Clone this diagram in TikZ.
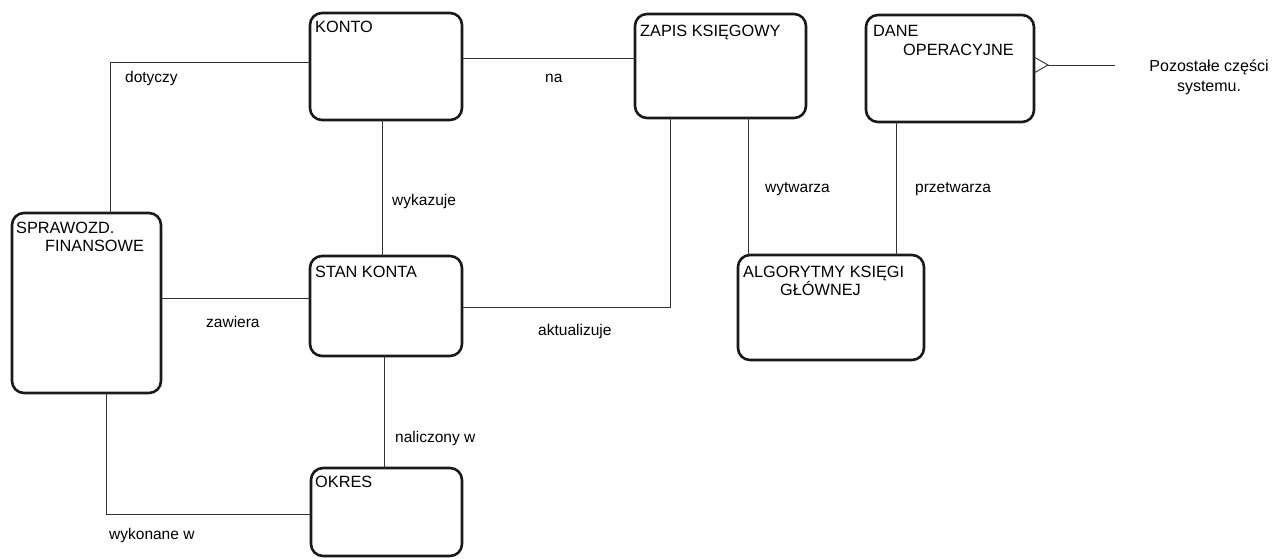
\documentclass[tikz,border=0pt]{standalone}
\usepackage{fontspec}
\setmainfont{Liberation Sans}
\usetikzlibrary{calc}
\begin{document}
\begin{tikzpicture}[x=1pt,y=-1pt,
  entity/.style={draw=black!90, line width=2.6pt, rounded corners=12pt,
    inner sep=0pt, outer sep=0pt},
  etitle/.style={inner sep=0pt, anchor=base west, align=left,
    font=\fontsize{16.3}{18.5}\selectfont},
  rel/.style={draw=black!80, line width=0.9pt},
  rlabel/.style={inner sep=0pt, anchor=base west,
    font=\fontsize{15.5}{18}\selectfont}]
\useasboundingbox (0,0) rectangle (1287,559);

% entity boxes
\node[entity, minimum width=152, minimum height=107] (konto) at (386,66.5) {};
\node[entity, minimum width=171, minimum height=104] (zapis) at (720.5,66) {};
\node[entity, minimum width=168, minimum height=107] (dane) at (950,68.5) {};
\node[entity, minimum width=149, minimum height=180] (sprawozd) at (86.5,303) {};
\node[entity, minimum width=152, minimum height=100] (stan) at (386,306) {};
\node[entity, minimum width=186, minimum height=105] (algorytmy) at (831,307.5) {};
\node[entity, minimum width=151, minimum height=88] (okres) at (386.5,512) {};

% entity names (two-line names are anchored on their last line)
\node[etitle] (tkonto) at ($(konto.north west)+(5,20)$) {KONTO};
\node[etitle] (tzapis) at ($(zapis.north west)+(5,22.5)$) {ZAPIS KSIĘGOWY};
\node[etitle] (tdane) at ($(dane.north west)+(7,40.5)$) {DANE\\\hspace*{30pt}OPERACYJNE};
\node[etitle] (tspraw) at ($(sprawozd.north west)+(4,38.5)$) {SPRAWOZD.\\\hspace*{29pt}FINANSOWE};
\node[etitle] (tstan) at ($(stan.north west)+(5,21)$) {STAN KONTA};
\node[etitle] (talg) at ($(algorytmy.north west)+(5,40.5)$) {ALGORYTMY KSIĘGI\\\hspace*{37pt}GŁÓWNEJ};
\node[etitle] (tokres) at ($(okres.north west)+(4,19)$) {OKRES};

% relationships
\draw[rel] ([xshift=23.5pt]sprawozd.north) |- ([yshift=4.5pt]konto.west);
\draw[rel] ([yshift=8.5pt]konto.east) coordinate (na1) -- (na1 -| zapis.west);
\draw[rel] ([xshift=-4pt]konto.south) coordinate (wk1) -- (wk1 |- stan.north);
\draw[rel] ([yshift=8pt]stan.west) coordinate (za1) -- (za1 -| sprawozd.east);
\draw[rel] ([yshift=-1pt]stan.east) -| ([xshift=-50.5pt]zapis.south);
\draw[rel] ([xshift=-2pt]stan.south) coordinate (nw1) -- (nw1 |- okres.north);
\draw[rel] ([xshift=19.5pt]sprawozd.south) |- ([yshift=-2pt]okres.west);
\draw[rel] ([xshift=27.5pt]zapis.south) coordinate (wt1) -- (wt1 |- algorytmy.north);
\draw[rel] ([xshift=-54pt]dane.south) coordinate (pt1) -- (pt1 |- algorytmy.north);

% link to the rest of the system, with a crow's foot at the entity
\node[inner sep=0pt, align=center, font=\fontsize{16}{20}\selectfont, anchor=base]
  (reszta) at (1209,92) {Pozostałe części\\systemu.};
\coordinate (restend) at (1115,65);
\draw[rel] ([yshift=3.5pt]dane.east) ++(14,0) -- (restend);
\draw[rel] ([yshift=11.5pt]dane.east) -- ++(14,8) -- ++(-14,8);

% relationship labels
\node[rlabel] (ldot) at (125,83) {dotyczy};
\node[rlabel] (lna) at (545,83) {na};
\node[rlabel] (lwyk) at (392,205) {wykazuje};
\node[rlabel] (lzaw) at (206,327) {zawiera};
\node[rlabel] (lakt) at (538,335) {aktualizuje};
\node[rlabel] (lnal) at (395,442) {naliczony w};
\node[rlabel] (lwyko) at (109,539) {wykonane w};
\node[rlabel] (lwyt) at (765,192) {wytwarza};
\node[rlabel] (lprz) at (915,192) {przetwarza};
\end{tikzpicture}
\end{document}
